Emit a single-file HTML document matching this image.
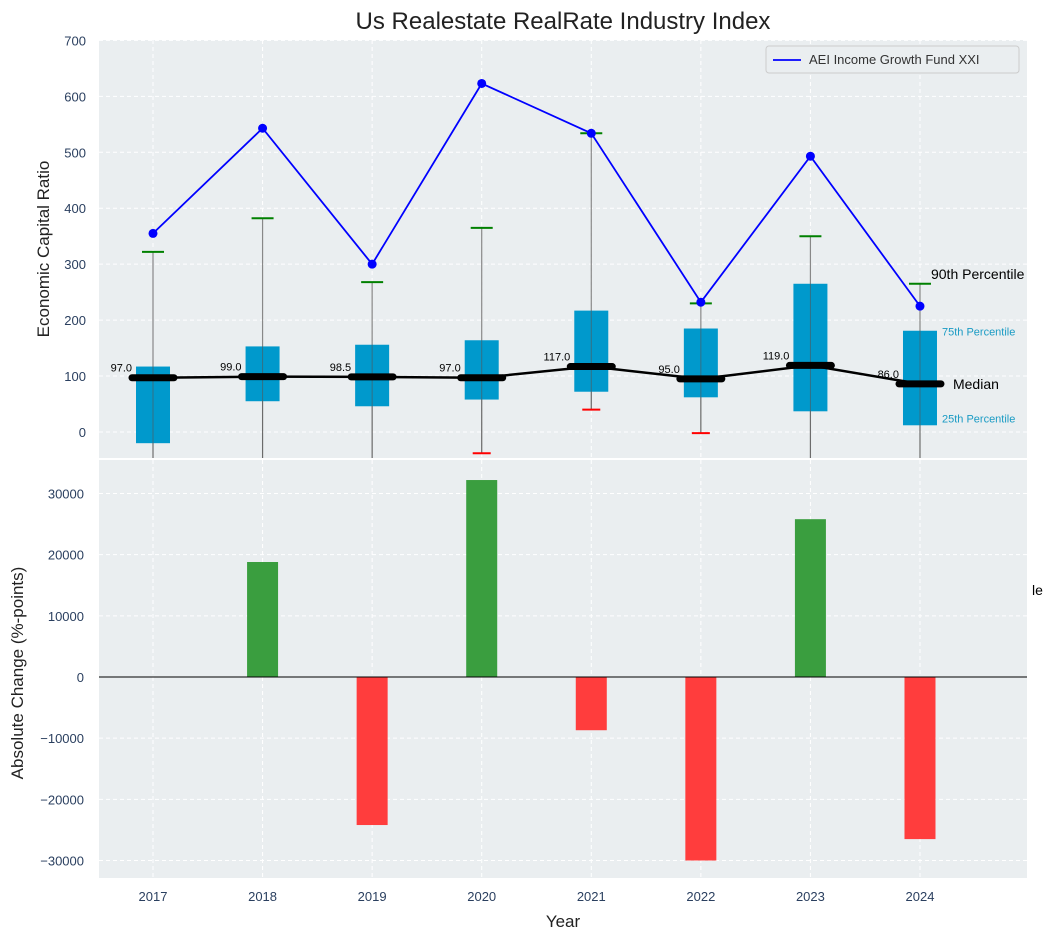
<!DOCTYPE html>
<html><head><meta charset="utf-8"><style>
body{margin:0;background:#fff;font-family:"Liberation Sans",sans-serif}
svg text{font-family:"Liberation Sans",sans-serif}
</style></head><body>
<svg id="c" width="1051" height="940" xmlns="http://www.w3.org/2000/svg"></svg>
<script>
const years=[2017,2018,2019,2020,2021,2022,2023,2024];
const fundValues=[355,543,300,623,534,232,493,225];
const q1=[-20,55,46,58,72,62,37,12];
const q3=[117,153,156,164,217,185,265,181];
const medians=[97,99,98.5,97,117,95,119,86];
const p90=[322,382,268,365,534,230,350,265];
const p10=[null,null,null,-38,40,-2,null,null];
const changes=[0,18800,-24200,32200,-8700,-30000,25800,-26500];
const topTicks=[0,100,200,300,400,500,600,700];
const botTicks=[-30000,-20000,-10000,0,10000,20000,30000];

const svg=document.getElementById('c');
const NS='http://www.w3.org/2000/svg';
function el(t,a,txt){const e=document.createElementNS(NS,t);for(const k in a)e.setAttribute(k,a[k]);if(txt!==undefined)e.textContent=txt;svg.appendChild(e);return e;}
const L=99,R=1027,T1=40,B1=458,T2=460,B2=878;
const x=v=>153+(v-2017)*109.57;
const y1=v=>432-v*0.5594;
const y2=v=>677-v*0.006117;

let e;
e=el('rect',{x:L,y:T1,width:R-L,height:B1-T1,fill:'#eaeef0'});

e=el('rect',{x:L,y:T2,width:R-L,height:B2-T2,fill:'#eaeef0'});

years.forEach(yr=>{
 el('line',{x1:x(yr),x2:x(yr),y1:T1,y2:B1,stroke:'#fff','stroke-dasharray':'4,3'});
 el('line',{x1:x(yr),x2:x(yr),y1:T2,y2:B2,stroke:'#fff','stroke-dasharray':'4,3'});
 e=el('text',{x:x(yr),y:901,'text-anchor':'middle','font-size':13,fill:'#2a3f5f'},yr);
 
});
topTicks.forEach(t=>{
 el('line',{x1:L,x2:R,y1:y1(t),y2:y1(t),stroke:'#fff','stroke-dasharray':'4,3'});
 e=el('text',{x:86,y:y1(t)+5,'text-anchor':'end','font-size':13,fill:'#2a3f5f'},t);
 
});
botTicks.forEach(t=>{
 el('line',{x1:L,x2:R,y1:y2(t),y2:y2(t),stroke:'#fff','stroke-dasharray':'4,3'});
 e=el('text',{x:84,y:y2(t)+5,'text-anchor':'end','font-size':13,fill:'#2a3f5f'},t===0?'0':String(t).replace('-','−'));
 
});
years.forEach((yr,i)=>{
 const lo=p10[i]===null?B1:y1(p10[i]);
 e=el('line',{x1:x(yr),x2:x(yr),y1:y1(p90[i]),y2:lo,stroke:'#888','stroke-width':1.2});
 
 e=el('rect',{x:x(yr)-17,y:y1(q3[i]),width:34,height:y1(q1[i])-y1(q3[i]),fill:'#0099cc'});
 
 el('line',{x1:x(yr),x2:x(yr),y1:y1(q3[i]),y2:lo,stroke:'#555','stroke-width':1,opacity:0.6});
 e=el('line',{x1:x(yr)-11,x2:x(yr)+11,y1:y1(p90[i]),y2:y1(p90[i]),stroke:'green','stroke-width':2});
 
 if(p10[i]!==null){e=el('line',{x1:x(yr)-9,x2:x(yr)+9,y1:y1(p10[i]),y2:y1(p10[i]),stroke:'red','stroke-width':2});
 }
});
e=el('polyline',{points:years.map((yr,i)=>x(yr)+','+y1(medians[i])).join(' '),fill:'none',stroke:'#000','stroke-width':2.5});

years.forEach((yr,i)=>{
 e=el('line',{x1:x(yr)-21,x2:x(yr)+21,y1:y1(medians[i]),y2:y1(medians[i]),stroke:'#000','stroke-width':7,'stroke-linecap':'round'});
 
 e=el('text',{x:x(yr)-21,y:y1(medians[i])-6,'text-anchor':'end','font-size':11,fill:'#000'},medians[i].toFixed(1));
 
});
e=el('polyline',{points:years.map((yr,i)=>x(yr)+','+y1(fundValues[i])).join(' '),fill:'none',stroke:'blue','stroke-width':1.8});

years.forEach((yr,i)=>{e=el('circle',{cx:x(yr),cy:y1(fundValues[i]),r:4.5,fill:'blue'});
 });
const ax=x(2024);
[['90th Percentile',ax+11,y1(p90[7])-5,14,'#000'],['75th Percentile',ax+22,y1(q3[7])+5,11,'#1a9bc4'],['Median',ax+33,y1(medians[7])+5,14,'#000'],['25th Percentile',ax+22,y1(q1[7])-3,11,'#1a9bc4']].forEach(a=>{
 e=el('text',{x:a[1],y:a[2],'font-size':a[3],fill:a[4]},a[0]);
 
});
e=el('rect',{x:766,y:46,width:253,height:27,fill:'#eaeef0',stroke:'#ccc',rx:3});

el('line',{x1:773,x2:801,y1:60,y2:60,stroke:'blue','stroke-width':1.8});
e=el('text',{x:809,y:64,'font-size':13,fill:'#333'},'AEI Income Growth Fund XXI');

years.forEach((yr,i)=>{
 const v=changes[i];if(v===0)return;
 e=el('rect',{x:x(yr)-15.5,y:Math.min(y2(v),y2(0)),width:31,height:Math.abs(y2(v)-y2(0)),fill:v>0?'#3a9e3f':'#ff3d3d'});
 
});
el('line',{x1:L,x2:R,y1:y2(0),y2:y2(0),stroke:'#000','stroke-width':1});
e=el('text',{x:1032,y:595,'font-size':14,fill:'#000'},'le');

e=el('text',{x:563,y:29,'text-anchor':'middle','font-size':24,fill:'#222'},'Us Realestate RealRate Industry Index');

e=el('text',{x:49,y:249,'text-anchor':'middle','font-size':17,fill:'#222',transform:'rotate(-90 49 249)'},'Economic Capital Ratio');

e=el('text',{x:23,y:673,'text-anchor':'middle','font-size':17,fill:'#222',transform:'rotate(-90 23 673)'},'Absolute Change (%-points)');

e=el('text',{x:563,y:927,'text-anchor':'middle','font-size':17,fill:'#222'},'Year');

</script>
</body></html>
